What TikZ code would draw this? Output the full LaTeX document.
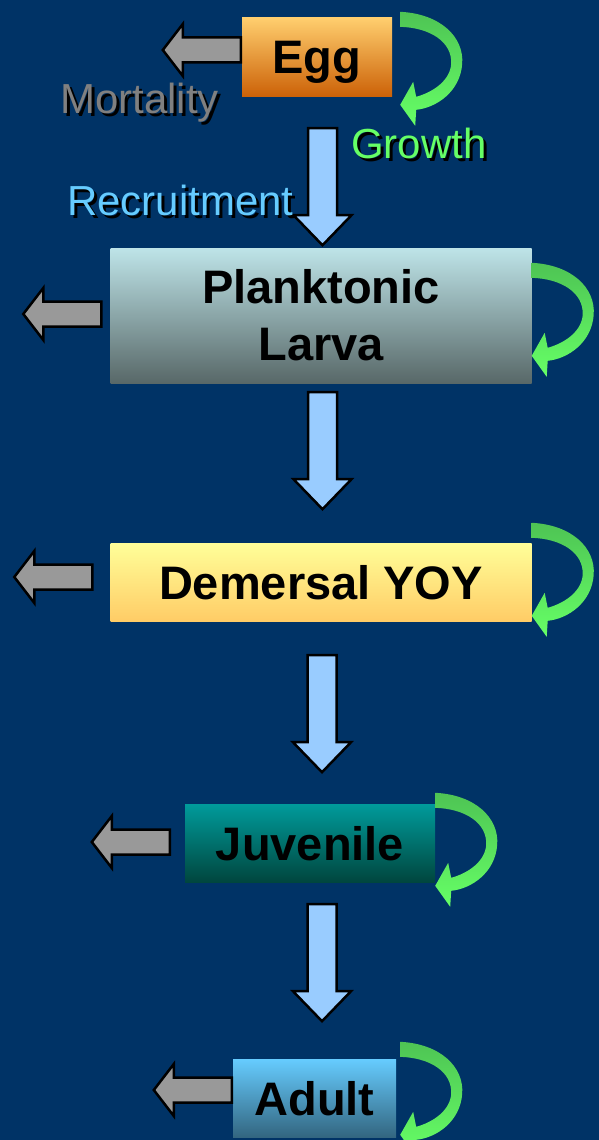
\documentclass[tikz,border=0pt]{standalone}
\usepackage{fontspec}
\setmainfont{Liberation Sans}
\usepackage{xcolor}

\definecolor{bgblue}{RGB}{0,51,102}
\definecolor{mortgray}{RGB}{128,128,128}
\definecolor{mortfill}{RGB}{153,153,153}
\definecolor{growthtxt}{RGB}{102,255,102}
\definecolor{growthdark}{RGB}{78,196,84}
\definecolor{growthlight}{RGB}{102,255,102}
\definecolor{recruittxt}{RGB}{102,204,255}
\definecolor{recruitfill}{RGB}{153,204,255}
\definecolor{eggtop}{RGB}{255,206,110}
\definecolor{eggbot}{RGB}{204,98,8}
\definecolor{larvatop}{RGB}{190,228,232}
\definecolor{larvabot}{RGB}{88,104,104}
\definecolor{yoytop}{RGB}{255,255,153}
\definecolor{yoybot}{RGB}{255,204,102}
\definecolor{juvtop}{RGB}{0,155,155}
\definecolor{juvbot}{RGB}{0,70,62}
\definecolor{adulttop}{RGB}{102,204,255}
\definecolor{adultbot}{RGB}{51,102,128}

\newcommand{\shadowtext}[1]{\leavevmode\rlap{\kern3pt\raisebox{-3pt}{\color{black}#1}}#1}

\tikzset{
    stage/.style={inner sep=0pt, font=\fontsize{47}{57}\selectfont\bfseries, text=black},
    oneline/.style={text height=34pt, text depth=0pt},
    caption/.style={anchor=base west, inner sep=0pt, font=\fontsize{42}{50}\selectfont},
    mortarrow/.pic={
        \filldraw[fill=mortfill, draw=black, line width=2.5pt]
            (0,-12.5) -- (-58,-12.5) -- (-58,-26) -- (-78,0) -- (-58,26) -- (-58,12.5) -- (0,12.5) -- cycle;
    },
    recruitarrow/.pic={
        \filldraw[fill=recruitfill, draw=black, line width=2.5pt]
            (-14.5,0) -- (14.5,0) -- (14.5,87) -- (29,87) -- (0,117) -- (-29,87) -- (-14.5,87) -- cycle;
    },
    growtharrow/.pic={
        \path[shade, top color=growthdark, bottom color=growthlight]
            (0,0) .. controls (40,2) and (64,25) .. (62,52)
            .. controls (60,80) and (36,96) .. (16,98)
            -- (15,114) -- (0,93) -- (13,70) -- (16,85)
            .. controls (34,80) and (50,68) .. (51,52)
            .. controls (52,30) and (30,16) .. (0,15) -- cycle;
    }
}

\begin{document}
\begin{tikzpicture}[x=1pt, y=-1pt]
    % Fond
    \fill[bgblue] (0,0) rectangle (599,1140);
    \useasboundingbox (0,0) rectangle (599,1140);

    % Stades
    \node[stage, oneline, minimum width=150pt, minimum height=78pt, top color=eggtop, bottom color=eggbot] (egg) at (317,57) {Egg};
    \node[stage, align=center, minimum width=421pt, minimum height=135pt, top color=larvatop, bottom color=larvabot] (larva) at (321,315.5) {Planktonic\\Larva};
    \node[stage, oneline, minimum width=421pt, minimum height=78pt, top color=yoytop, bottom color=yoybot] (yoy) at (321,582) {Demersal YOY};
    \node[stage, oneline, minimum width=250pt, minimum height=78pt, top color=juvtop, bottom color=juvbot] (juv) at (310,843) {Juvenile};
    \node[stage, oneline, minimum width=163pt, minimum height=78pt, top color=adulttop, bottom color=adultbot] (adult) at (314.5,1098) {Adult};

    % Mortalite
    \pic at ([shift={(-1,-7)}]egg.west) {mortarrow};
    \pic at ([shift={(-9,-1.5)}]larva.west) {mortarrow};
    \pic at ([shift={(-18,-5)}]yoy.west) {mortarrow};
    \pic at ([shift={(-15,-1)}]juv.west) {mortarrow};
    \pic at ([shift={(-1,-8)}]adult.west) {mortarrow};

    % Croissance
    \pic at ([shift={(8,-6)}]egg.north east) {growtharrow};
    \pic at ([shift={(0,15)}]larva.north east) {growtharrow};
    \pic at ([shift={(0,-20)}]yoy.north east) {growtharrow};
    \pic at ([shift={(0,-11)}]juv.north east) {growtharrow};
    \pic at ([shift={(4,-17)}]adult.north east) {growtharrow};

    % Recrutement
    \pic at ([shift={(5.5,32)}]egg.south) {recruitarrow};
    \pic at ([shift={(1.5,9)}]larva.south) {recruitarrow};
    \pic at ([shift={(1,34)}]yoy.south) {recruitarrow};
    \pic at ([shift={(12,22)}]juv.south) {recruitarrow};

    % Labels
    \node[caption, text=mortgray] (mortlbl) at (60,113) {\shadowtext{Mortality}};
    \node[caption, text=growthtxt] (growlbl) at (351,158) {\shadowtext{Growth}};
    \node[caption, text=recruittxt] (recrlbl) at (67,215) {\shadowtext{Recruitment}};

\end{tikzpicture}
\end{document}
